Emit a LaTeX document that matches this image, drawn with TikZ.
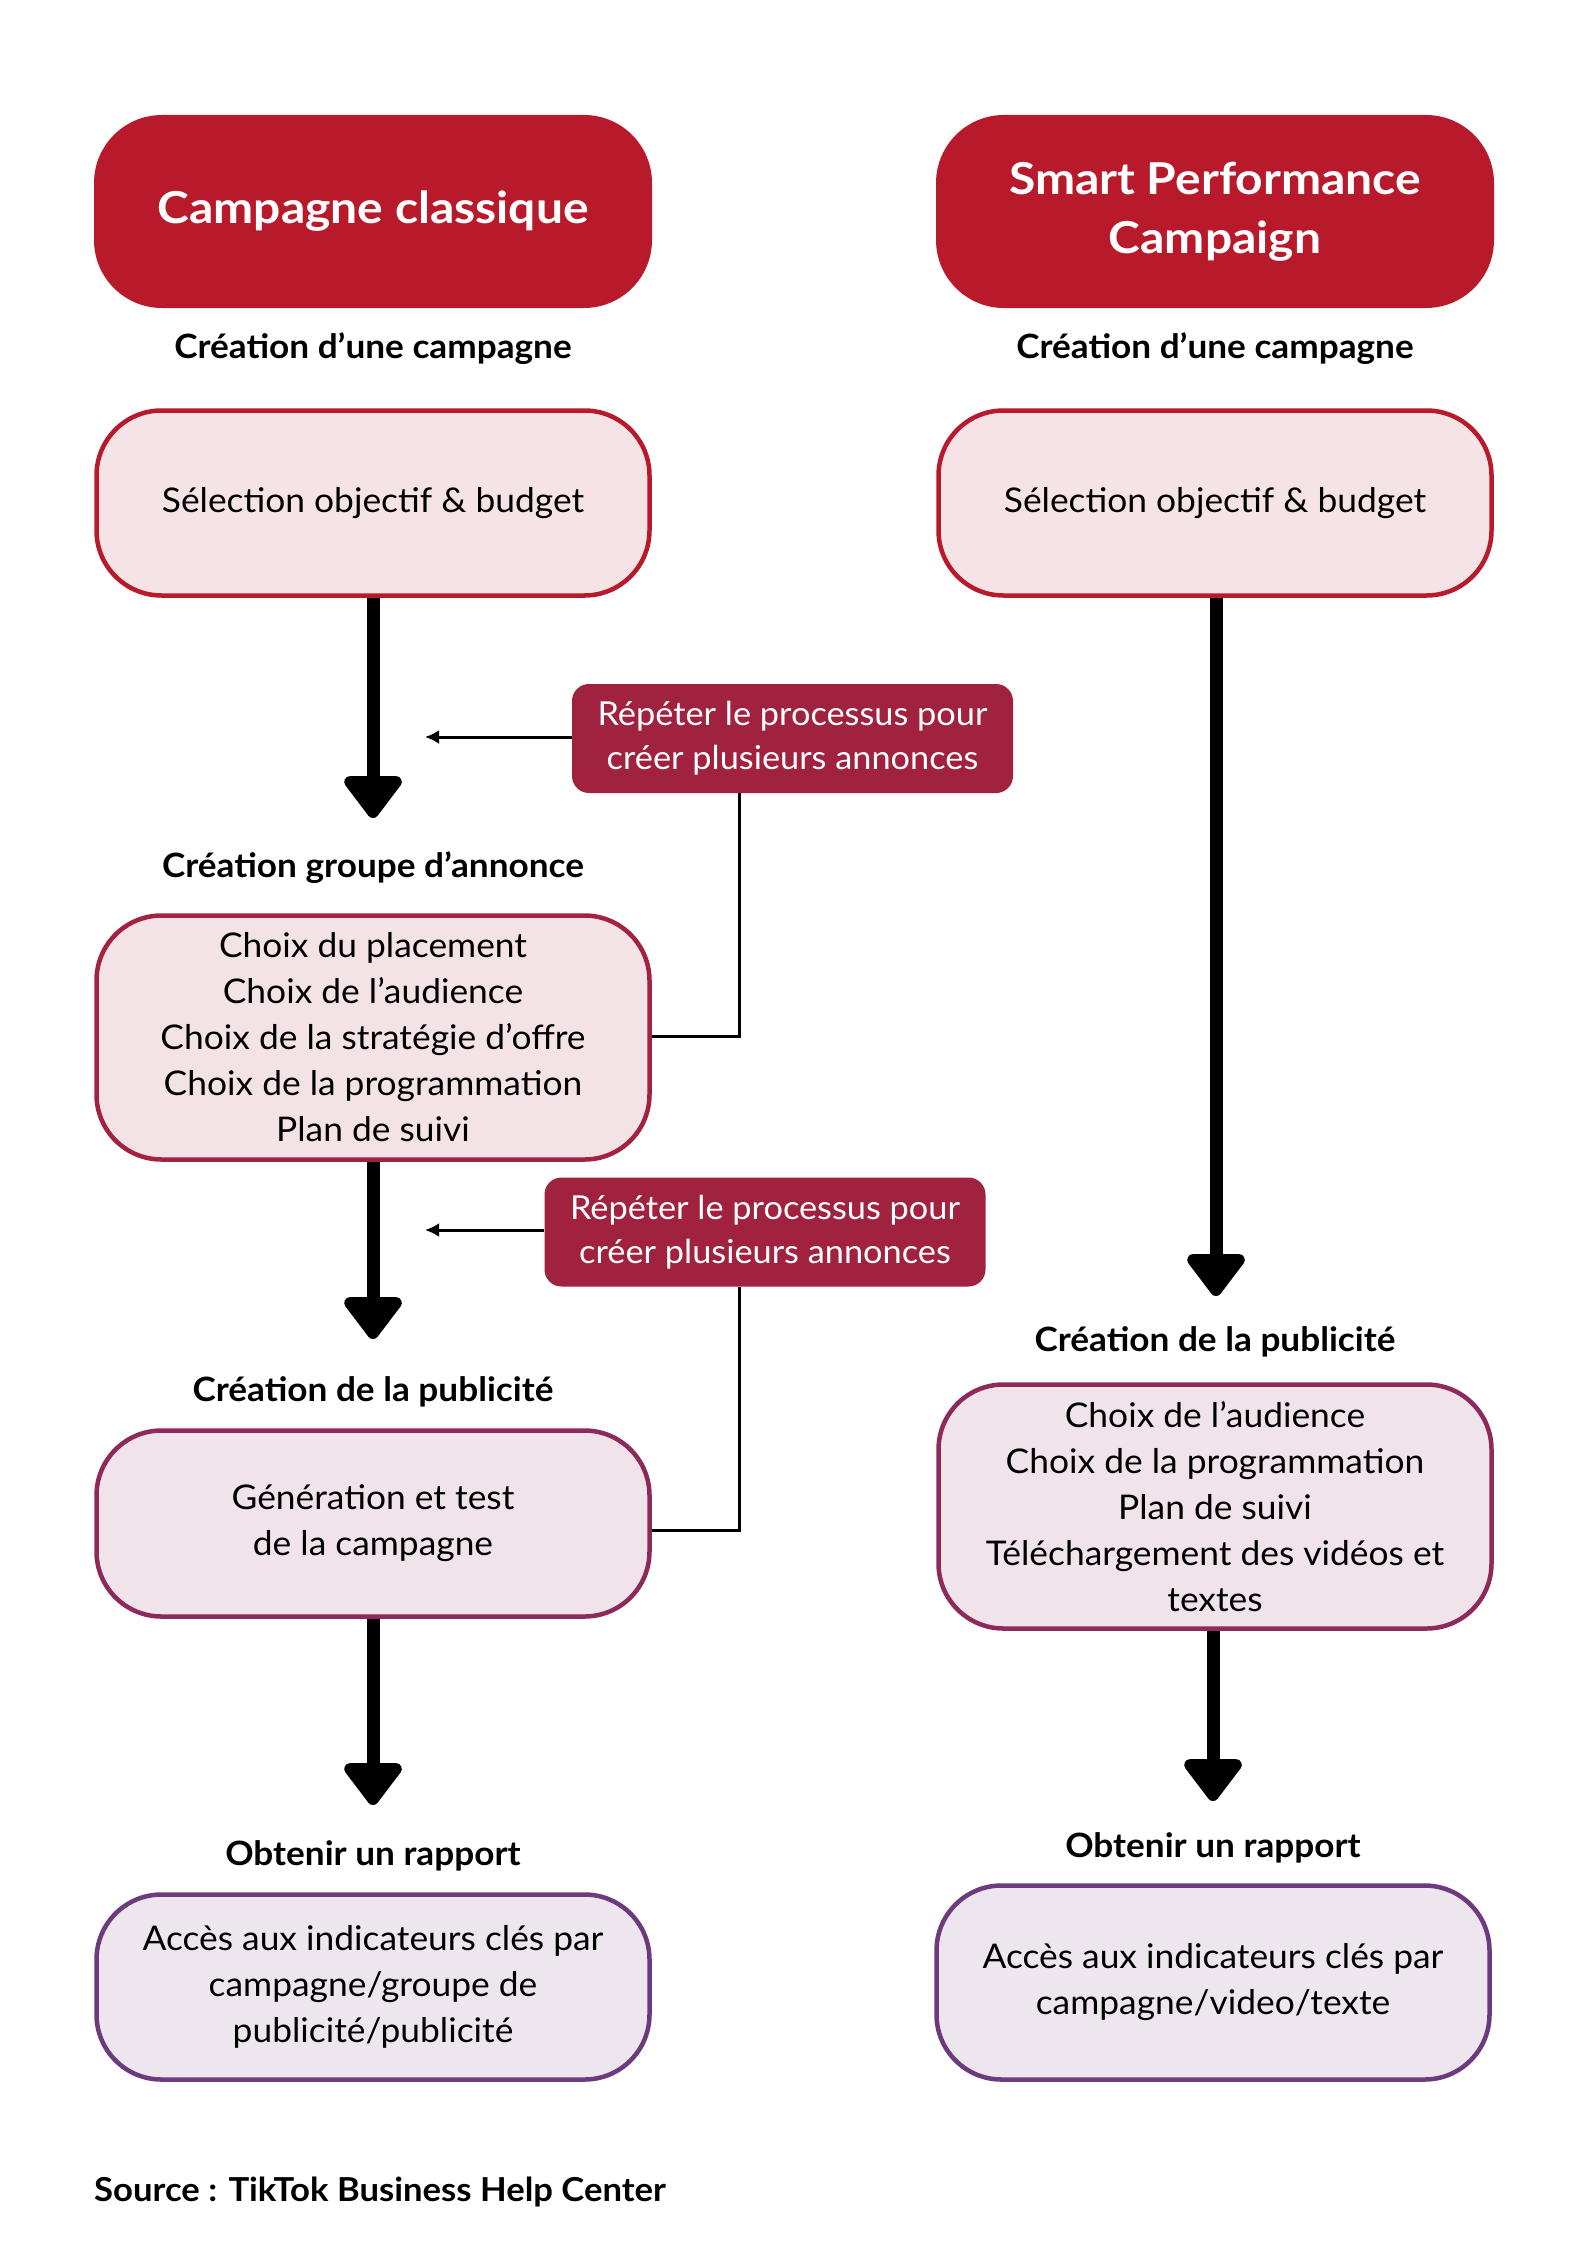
\documentclass[tikz,border=0pt]{standalone}
\usepackage{fontspec}
\setmainfont{Lato}[FakeStretch=1.04]
\newfontfamily\headfont{Lato}[FakeStretch=1.05]
\newfontfamily\titlefont{Lato}[FakeStretch=1.09]
\usetikzlibrary{arrows.meta}
\definecolor{cred}{HTML}{B81A2B}
\definecolor{fillA}{HTML}{F6E3E5}
\definecolor{strokeB}{HTML}{A3223F}
\definecolor{fillB}{HTML}{F3E3E7}
\definecolor{crep}{HTML}{A1223F}
\definecolor{strokeC}{HTML}{8D2A5B}
\definecolor{fillC}{HTML}{F0E4EA}
\definecolor{strokeD}{HTML}{6D3A7E}
\definecolor{fillD}{HTML}{EEE6EF}
\begin{document}
\begin{tikzpicture}[x=1pt,y=-1pt,
  titlebox/.style={fill=cred, rounded corners=68pt, minimum width=558pt, minimum height=193pt,
    text=white, align=center, inner sep=0pt, font=\titlefont\bfseries\fontsize{44}{59}\selectfont},
  stepbox/.style={draw, line width=4.5pt, rounded corners=65pt, minimum width=553pt,
    align=center, inner sep=0pt, font=\fontsize{34}{46}\selectfont},
  heading/.style={anchor=base, inner sep=0pt, font=\headfont\bfseries\fontsize{33.5}{40}\selectfont},
  repbox/.style={fill=crep, rounded corners=17pt, minimum width=441pt, minimum height=109pt,
    text=white, align=center, inner sep=0pt, font=\fontsize{33}{44}\selectfont},
  bigarrow/.style={line width=13pt, line join=round, -{Triangle[length=46pt,width=66pt,round]}},
  thinarrow/.style={line width=3pt, -{Latex[length=14pt,width=14pt]}},
  elbow/.style={line width=3pt}
]
\useasboundingbox (0,0) rectangle (1587,2245);
\fill[white] (0,0) rectangle (1587,2245);

% ---------- left column ----------
\node[titlebox] (lt) at (373,211.5) {Campagne classique};
\node[heading] (lh1) at (373,358) {Création d’une campagne};
\node[stepbox, draw=cred, fill=fillA, minimum height=185pt] (lb2) at (373,503) {Sélection objectif \& budget};
\coordinate (lt1) at (373,818);
\draw[bigarrow] (lb2.south) -- (lt1);

\node[repbox] (rep1) at (792.5,738.5) {Répéter le processus pour\\créer plusieurs annonces};
\coordinate (ra1) at (425,737);
\draw[thinarrow] (rep1.west |- ra1) -- (ra1);

\node[heading] (lh2) at (373,877) {Création groupe d’annonce};
\node[stepbox, draw=strokeB, fill=fillB, minimum height=244pt] (lb3) at (373,1037.5)
  {Choix du placement\\Choix de l’audience\\Choix de la stratégie d’offre\\Choix de la programmation\\Plan de suivi};
\coordinate (j1) at (739,1036);
\draw[elbow] (rep1.south -| j1) -- (j1) -- (j1 -| lb3.east);

\coordinate (lt2) at (373,1339);
\draw[bigarrow] (lb3.south) -- (lt2);

\node[repbox] (rep2) at (765,1232) {Répéter le processus pour\\créer plusieurs annonces};
\coordinate (ra2) at (425,1230);
\draw[thinarrow] (rep2.west |- ra2) -- (ra2);

\node[heading] (lh3) at (373,1401) {Création de la publicité};
\node[stepbox, draw=strokeC, fill=fillC, minimum height=186pt] (lb4) at (373,1523.5)
  {Génération et test\\de la campagne};
\coordinate (j2) at (739,1530);
\draw[elbow] (rep2.south -| j2) -- (j2) -- (j2 -| lb4.east);

\coordinate (lt3) at (373,1805);
\draw[bigarrow] (lb4.south) -- (lt3);

\node[heading] (lh4) at (373,1865) {Obtenir un rapport};
\node[stepbox, draw=strokeD, fill=fillD, minimum height=185pt] (lb5) at (373,1987)
  {Accès aux indicateurs clés par\\campagne/groupe de\\publicité/publicité};

\node[heading, anchor=base west, font=\headfont\bfseries\fontsize{33}{40}\selectfont] (src) at (94,2201) {Source : TikTok Business Help Center};

% ---------- right column ----------
\node[titlebox] (rt) at (1215,211.5) {Smart Performance\\Campaign};
\node[heading] (rh1) at (1215,358) {Création d’une campagne};
\node[stepbox, draw=cred, fill=fillA, minimum height=185pt] (rb2) at (1215,503) {Sélection objectif \& budget};
\coordinate (rt1) at (1216,1296);
\draw[bigarrow] (rb2.south -| rt1) -- (rt1);

\node[heading] (rh3) at (1215,1351) {Création de la publicité};
\node[stepbox, draw=strokeC, fill=fillC, minimum height=244pt] (rb3) at (1215,1506.5)
  {Choix de l’audience\\Choix de la programmation\\Plan de suivi\\Téléchargement des vidéos et\\textes};
\coordinate (rt2) at (1213,1801);
\draw[bigarrow] (rb3.south -| rt2) -- (rt2);

\node[heading] (rh4) at (1213,1857) {Obtenir un rapport};
\node[stepbox, draw=strokeD, fill=fillD, minimum height=194pt] (rb5) at (1213,1982.5)
  {Accès aux indicateurs clés par\\campagne/video/texte};
\end{tikzpicture}
\end{document}
